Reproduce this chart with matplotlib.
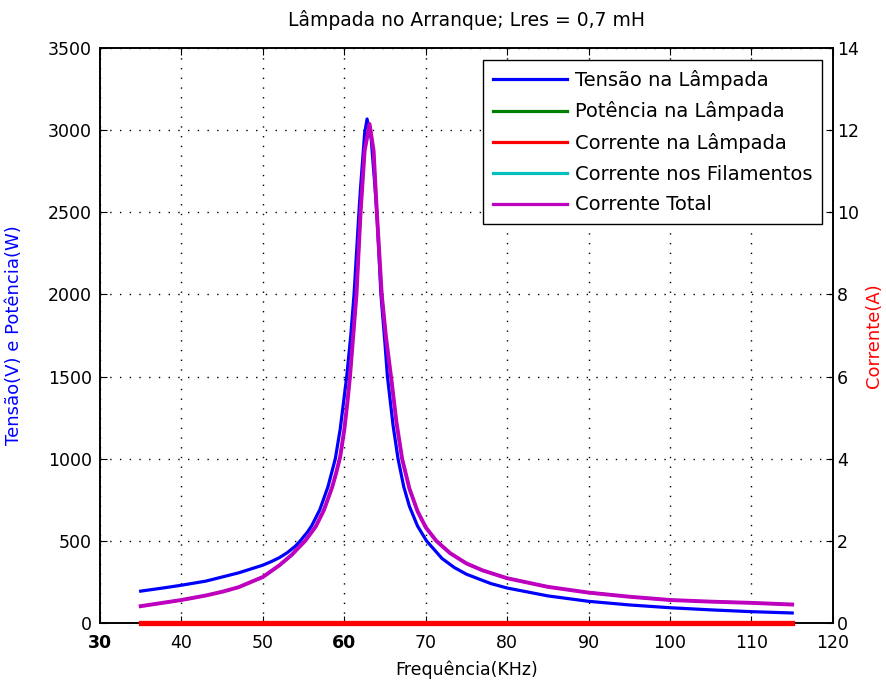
import matplotlib
matplotlib.use("Agg")
import matplotlib.pyplot as plt

# --- data --------------------------------------------------------------

# lamp voltage (V), left axis
freq_v = [35, 38, 40, 43, 45, 47, 50, 51, 52, 53, 54, 54.6, 55.5, 56, 57, 58,
          58.9, 59.5, 60.3, 60.8, 61.2, 61.5, 61.8, 62.0, 62.5, 62.8, 63.3,
          63.7, 64.0, 64.5, 65.0, 65.3, 66.0, 66.6, 67.3, 68, 69, 70.1, 72,
          73.5, 75, 78, 80, 85, 90, 95, 100, 105, 110, 115]
tensao = [194, 215, 230, 255, 280, 305, 352, 373, 397, 428, 468, 500, 555,
          592, 690, 830, 1000, 1180, 1500, 1750, 2000, 2250, 2500, 2650, 2980,
          3068, 2950, 2700, 2500, 2000, 1700, 1500, 1200, 1000, 830, 710, 590,
          500, 393, 338, 297, 240, 213, 165, 132, 110, 93, 80, 69, 61]

# total current (A), right axis
freq_i = [35, 38, 40, 43, 45, 47, 50, 52, 53.5, 55.2, 56.5, 57.5, 58.5, 59.0,
          59.5, 60.0, 60.4, 60.7, 61.1, 61.5, 62.0, 62.5, 63.1, 63.6, 64.0,
          64.6, 65.1, 65.8, 66.4, 67.1, 68, 69, 70, 71.3, 73, 75, 77, 80, 85,
          90, 95, 100, 105, 110, 115]
corrente_total = [0.41, 0.50, 0.56, 0.67, 0.76, 0.87, 1.12, 1.40, 1.65, 2.0,
                  2.35, 2.75, 3.3, 3.65, 4.05, 4.7, 5.4, 6.0, 7.0, 8.0, 10.0,
                  11.5, 12.15, 11.5, 10.0, 8.0, 7.0, 5.9, 4.9, 4.0, 3.27, 2.72,
                  2.33, 2.0, 1.7, 1.45, 1.28, 1.09, 0.88, 0.74, 0.64, 0.56,
                  0.52, 0.49, 0.45]
# filament current follows the total current (hidden under it)
corrente_filamentos = corrente_total

# flat series at zero
freq_flat = [35, 115]
potencia = [0, 0]
corrente_lampada = [0, 0]

xticks = [30, 40, 50, 60, 70, 80, 90, 100, 110, 120]
yticks_left = [0, 500, 1000, 1500, 2000, 2500, 3000, 3500]
yticks_right = [0, 2, 4, 6, 8, 10, 12, 14]

labels = ["Tensão na Lâmpada", "Potência na Lâmpada", "Corrente na Lâmpada",
          "Corrente nos Filamentos", "Corrente Total"]

# --- plot ----------------------------------------------------------------

plt.rcParams['font.family'] = ['DejaVu Sans']
plt.rcParams['font.size'] = 12.5

fig = plt.figure(figsize=(8.87, 6.82), dpi=100)
ax = fig.add_axes([0.1127, 0.0865, 0.8263, 0.8431])
ax2 = ax.twinx()

l1, = ax.plot(freq_v, tensao, color='#0000ff', lw=2.3, zorder=3)
l2, = ax.plot(freq_flat, potencia, color='#008000', lw=2.3, zorder=3)
l4, = ax2.plot(freq_i, corrente_filamentos, color='#00bfbf', lw=2.0, zorder=3)
l5, = ax2.plot(freq_i, corrente_total, color='#bf00bf', lw=2.8, zorder=4)
l3, = ax2.plot(freq_flat, corrente_lampada, color='#ff0000', lw=3.8,
               zorder=5, clip_on=False)

ax.set_xlim(30, 120)
ax.set_ylim(0, 3500)
ax2.set_ylim(0, 14)
ax.set_xticks(xticks)
ax.set_yticks(yticks_left)
ax2.set_yticks(yticks_right)

ax.grid(True, color='black', linestyle=(0, (1, 6)), linewidth=1.0)
ax.tick_params(direction='in', length=5, top=True, right=False, pad=6)
ax.tick_params(axis='x', pad=8)
ax2.tick_params(direction='in', length=5, pad=3)
for lab in ax.get_xticklabels():
    if lab.get_text() in ("30", "60"):
        lab.set_fontweight('bold')

for a in (ax, ax2):
    for s in a.spines.values():
        s.set_linewidth(1.2)

ax.set_title("Lâmpada no Arranque; Lres = 0,7 mH", fontsize=13.5, pad=16)
ax.set_xlabel("Frequência(KHz)", labelpad=6)
ax.set_ylabel("Tensão(V) e Potência(W)", color='#0000ff', labelpad=18,
              fontsize=13)
ax2.set_ylabel("Corrente(A)", color='#ff0000', labelpad=4, fontsize=13)

leg = ax2.legend([l1, l2, l3, l4, l5], labels, loc='upper right',
                 bbox_to_anchor=(0.985, 0.979), borderaxespad=0,
                 fancybox=False, edgecolor='black', framealpha=1,
                 handlelength=3.8, borderpad=0.5, labelspacing=0.6,
                 handletextpad=0.4, fontsize=14)
leg.get_frame().set_linewidth(1.0)
for line in leg.get_lines():
    line.set_linewidth(2.3)

fig.savefig("out.png", dpi=100)
